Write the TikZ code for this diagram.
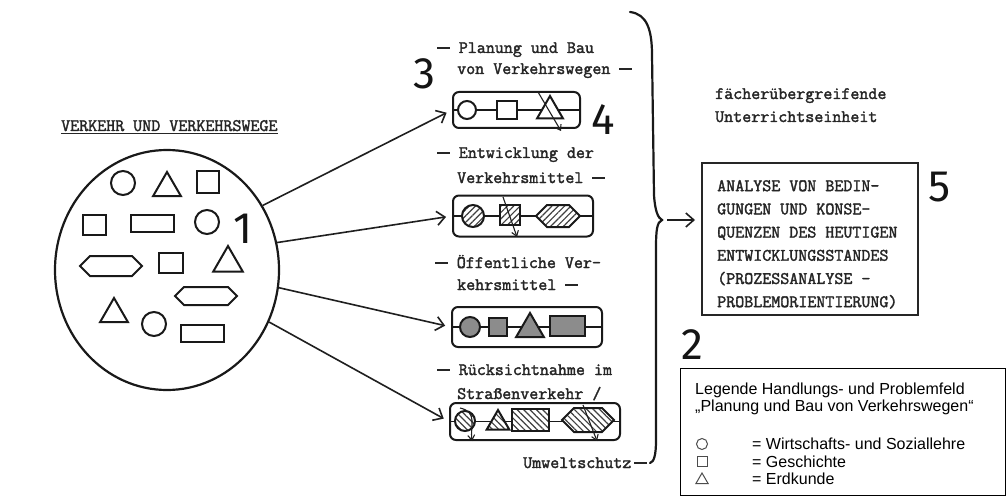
\documentclass[tikz,border=0pt]{standalone}
\usepackage{fontspec}
\usetikzlibrary{arrows.meta,shapes.geometric,shapes.symbols,patterns.meta}
\newfontfamily\tw[FakeBold=2]{Latin Modern Mono}
\newfontfamily\lsans{Liberation Sans}
\newfontfamily\nums{Fira Sans}
\newcommand\tdash{\rule[0.24em]{0.72em}{1.6pt}}
\begin{document}
\begin{tikzpicture}[x=1pt,y=-1pt,
  tt/.style={font=\tw\fontsize{17.5}{23.2}\selectfont, text=black!85, inner sep=0, anchor=base west},
  lg/.style={font=\lsans\fontsize{16}{16}\selectfont, text=black, inner sep=0, anchor=base west},
  num/.style={font=\nums\fontsize{44}{44}\selectfont, text=black!92, inner sep=0},
  shp/.style={draw=black!90, line width=2pt, inner sep=0},
  circ/.style={shp, circle},
  sq/.style={shp, rectangle},
  tri/.style={shp, regular polygon, regular polygon sides=3},
  hex/.style={shp, signal, signal to=east and west},
  strip/.style={draw=black!90, line width=2pt, rounded corners=6pt, inner sep=0},
  arr/.style={draw=black!88, line width=1.6pt, -{Straight Barb[length=8pt,width=14pt,line width=1.6pt]}},
  sarr/.style={draw=black!88, line width=1.1pt, -{Straight Barb[length=5pt,width=7pt,line width=1.1pt]}},
  hne/.style={preaction={fill=white}, pattern={Lines[angle=45,distance=4.5pt,line width=1.2pt]}, pattern color=black!75},
  hnw/.style={preaction={fill=white}, pattern={Lines[angle=-45,distance=4.5pt,line width=1.2pt]}, pattern color=black!75},
  gf/.style={fill=black!45},
  wf/.style={fill=white}
]
\useasboundingbox (0,0) rectangle (1008,497);
\fill[white] (0,0) rectangle (1008,497);

% title
\node[tt] (title) at (61,131) {VERKEHR UND VERKEHRSWEGE};
\draw[black!85, line width=1.2pt] ([yshift=-2.5pt]title.base west) -- ([yshift=-2.5pt]title.base east);

% big circle with shapes
\node[draw=black!90, line width=2.2pt, ellipse, minimum width=224pt, minimum height=240pt, inner sep=0] (big) at (167,270) {};
\node[circ, minimum size=24pt] (a1) at (123,183) {};
\node[tri, minimum size=32pt] (a2) at (167,188) {};
\node[sq, minimum width=22pt, minimum height=22pt] (a3) at (208,182) {};
\node[sq, minimum width=23pt, minimum height=20pt] (a4) at (94,225) {};
\node[sq, minimum width=43pt, minimum height=17pt] (a5) at (152,223) {};
\node[circ, minimum size=24pt] (a6) at (207,222) {};
\node[hex, minimum width=62pt, minimum height=20pt] (a7) at (111,266) {};
\node[sq, minimum width=24pt, minimum height=20pt] (a8) at (171,263) {};
\node[tri, minimum size=34pt] (a9) at (228,263) {};
\node[tri, minimum size=32pt] (a10) at (114,314) {};
\node[hex, minimum width=62pt, minimum height=18pt] (a11) at (206,296) {};
\node[circ, minimum size=24pt] (a12) at (154,324) {};
\node[sq, minimum width=43pt, minimum height=17pt] (a13) at (202,333) {};

% numbers
\node[num] (n1) at (243,229) {1};
\node[num] (n2) at (692,345) {2};
\node[num] (n3) at (424,74) {3};
\node[num] (n4) at (603,120) {4};
\node[num] (n5) at (940,187) {5};

% column texts
\node[tt] (l1a) at (437,53) {\tdash\ Planung und Bau};
\node[tt] (l1b) at (457,74) {von Verkehrswegen \tdash};
\node[tt] (l2a) at (437,158) {\tdash\ Entwicklung der};
\node[tt] (l2b) at (457,183) {Verkehrsmittel \tdash};
\node[tt] (l3a) at (435,268) {\tdash\ Öffentliche Ver-};
\node[tt] (l3b) at (457,290) {kehrsmittel \tdash};
\node[tt] (l4a) at (437,375) {\tdash\ Rücksichtnahme im};
\node[tt] (l4b) at (457,399) {Straßenverkehr /};
\node[tt] (l5) at (523,468) {Umweltschutz\hspace{3pt}\tdash};

% strip 1
\node[strip, minimum width=127pt, minimum height=36pt] (b1) at (516.5,110) {};
\draw[black!90, line width=1.6pt] (b1.west) -- (b1.east);
\node[circ, wf, minimum size=18pt] (c1) at (467,110) {};
\node[sq, wf, minimum width=20pt, minimum height=18pt] (s1) at (507,110) {};
\node[tri, wf, minimum size=30pt] (t1) at (550,111) {};
\coordinate (x1s) at (538,92);
\coordinate (x1e) at (561,131);
\draw[sarr] (x1s) -- (x1e);

% strip 2
\node[strip, minimum width=140pt, minimum height=41pt] (b2) at (523,216) {};
\draw[black!90, line width=1.6pt] (b2.west) -- (b2.east);
\node[circ, hne, minimum size=22pt] (c2) at (473,216) {};
\node[sq, hne, minimum width=20pt, minimum height=20pt] (s2) at (510,215) {};
\node[hex, hne, minimum width=44pt, minimum height=22pt] (h2) at (558,216) {};
\coordinate (x2s) at (503,197);
\coordinate (x2e) at (517,237);
\draw[sarr] (x2s) -- (x2e);

% strip 3
\node[strip, minimum width=150pt, minimum height=40pt] (b3) at (527,327) {};
\draw[black!90, line width=1.6pt] (b3.west) -- (b3.east);
\node[circ, gf, minimum size=20pt] (c3) at (470,327) {};
\node[sq, gf, minimum width=18pt, minimum height=18pt] (s3) at (498,327) {};
\node[tri, gf, minimum size=32pt] (t3) at (530,329) {};
\node[sq, gf, minimum width=35pt, minimum height=20pt] (r3) at (567,326) {};

% strip 4
\node[strip, minimum width=170pt, minimum height=37pt] (b4) at (535,421.5) {};
\draw[black!90, line width=1.6pt] (b4.west) -- (b4.east);
\node[circ, hnw, minimum size=20pt] (c4) at (465,421) {};
\node[tri, hnw, minimum size=26pt] (t4) at (498,423) {};
\node[sq, hnw, minimum width=37pt, minimum height=22pt] (r4) at (530,420) {};
\node[hex, hnw, minimum width=52pt, minimum height=24pt] (h4) at (588,420) {};
\coordinate (x4s) at (460,408);
\coordinate (x4e) at (472,441);
\draw[sarr] (x4s) .. controls (478,412) and (470,426) .. (x4e);
\coordinate (x5s) at (583,405);
\coordinate (x5e) at (597,441);
\draw[sarr] (x5s) -- (x5e);

% arrows from circle
\draw[arr, shorten >=6pt] (big.34) -- (b1.west);
\draw[arr, shorten >=6pt] (big.14) -- (b2.west);
\draw[arr, shorten >=6pt] (big.-9) -- (b3.west);
\draw[arr, shorten >=6pt] (big.-27) -- (b4.west);

% brace
\draw[black!90, line width=2.2pt, line cap=round]
  (630,12) .. controls (647,14) and (652,30) .. (652,55)
  -- (654,195) .. controls (655,211) and (658,218) .. (662,220) coordinate (tip)
  .. controls (657,222) and (656,230) .. (656,248)
  -- (656,440) .. controls (656,455) and (654,462) .. (650,463);

% right side
\node[tt] (r1) at (715,99) {fächerübergreifende};
\node[tt] (r2) at (715,122) {Unterrichtseinheit};
\node[draw=black!85, line width=2pt, minimum width=216pt, minimum height=152pt, inner sep=0] (b5) at (810,239) {};
\node[tt, anchor=north west, align=left] (t5) at (717,180) {ANALYSE VON BEDIN-\\GUNGEN UND KONSE-\\QUENZEN DES HEUTIGEN\\ENTWICKLUNGSSTANDES\\(PROZESSANALYSE -\\PROBLEMORIENTIERUNG)};
\draw[arr] ([xshift=5pt]tip) -- ([xshift=-6pt]tip -| b5.west);

% legend
\node[draw=black, line width=0.8pt, minimum width=325pt, minimum height=127pt, inner sep=0] (leg) at (842.5,431.5) {};
\node[lg] (g1) at (695,394) {Legende Handlungs- und Problemfeld};
\node[lg] (g2) at (695,411) {„Planung und Bau von Verkehrswegen“};
\node[lg] (g3) at (752,449) {= Wirtschafts- und Soziallehre};
\node[lg] (g4) at (752,467) {= Geschichte};
\node[lg] (g5) at (752,484) {= Erdkunde};
\node[draw=black!70, line width=1pt, circle, minimum size=11pt, inner sep=0] (s5) at (702,444) {};
\node[draw=black!70, line width=1pt, minimum size=10pt, inner sep=0] (s6) at (702,461) {};
\node[draw=black!70, line width=1pt, regular polygon, regular polygon sides=3, minimum size=14pt, inner sep=0] (s7) at (702,480) {};
\end{tikzpicture}
\end{document}
